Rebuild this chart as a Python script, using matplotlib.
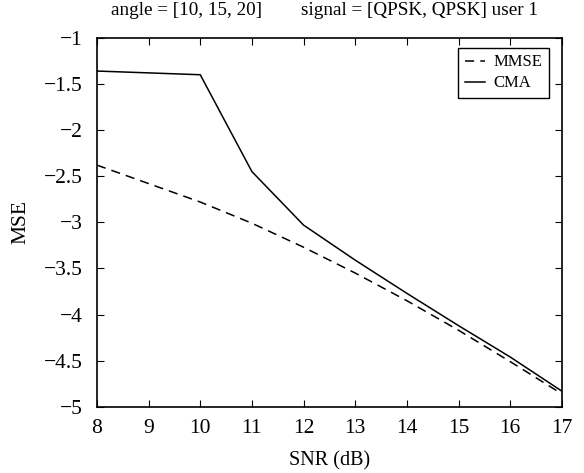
import matplotlib
matplotlib.use("Agg")
import matplotlib.pyplot as plt

plt.rcParams['font.family'] = ['Liberation Serif', 'DejaVu Serif']

snr = [8, 9, 10, 11, 12, 13, 14, 15, 16, 17]
mse_mmse = [-2.38, -2.58, -2.78, -3.01, -3.27, -3.55, -3.85, -4.17, -4.51, -4.86]
mse_cma = [-1.36, -1.38, -1.40, -2.45, -3.03, -3.41, -3.77, -4.12, -4.46, -4.83]

xticks = list(range(8, 18))
yticks = [-5, -4.5, -4, -3.5, -3, -2.5, -2, -1.5, -1]

fig = plt.figure(figsize=(5.84, 4.73), dpi=100)
ax = fig.add_axes([0.166, 0.140, 0.796, 0.780])

ax.plot(snr, mse_mmse, 'k--', lw=1.1, dashes=(6, 4), label='MMSE')
ax.plot(snr, mse_cma, 'k-', lw=1.1, label='CMA')

ax.set_xlim(8, 17)
ax.set_ylim(-5, -1)
ax.set_xticks(xticks)
ax.set_yticks(yticks)
ax.set_yticklabels(['\u22125', '\u22124.5', '\u22124', '\u22123.5', '\u22123',
                    '\u22122.5', '\u22122', '\u22121.5', '\u22121'])
ax.tick_params(direction='in', top=True, right=True, length=5, labelsize=15.5)
ax.tick_params(axis='y', pad=10)
ax.tick_params(axis='x', pad=9)
for s in ax.spines.values():
    s.set_linewidth(1.2)

ax.set_xlabel('SNR (dB)', fontsize=14.5, labelpad=9)
ax.set_ylabel('MSE', fontsize=15.5, labelpad=10)

# two-part title, as in the original
ax.text(0.03, 1.062, 'angle = [10, 15, 20]', transform=ax.transAxes,
        fontsize=13.8, ha='left', va='baseline')
ax.text(0.44, 1.062, 'signal = [QPSK, QPSK] user 1', transform=ax.transAxes,
        fontsize=13.8, ha='left', va='baseline')

leg = ax.legend(loc='upper right', fontsize=12, handlelength=1.2, handletextpad=0.5,
                borderpad=0.4, labelspacing=0.3, fancybox=False, edgecolor='k',
                framealpha=1, borderaxespad=0, bbox_to_anchor=(0.972, 0.973))
leg.get_frame().set_linewidth(1.0)

fig.savefig('out.png', dpi=100)
